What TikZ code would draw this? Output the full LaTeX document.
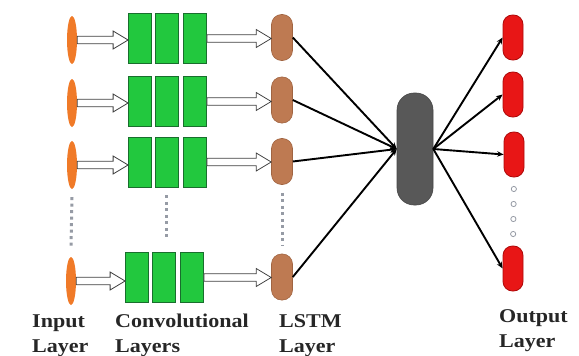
\documentclass[tikz,border=0pt]{standalone}
\usepackage{fontspec}
\setmainfont{Liberation Serif}
\usetikzlibrary{arrows.meta,calc,shapes.geometric}
\definecolor{inorange}{RGB}{240,122,40}
\definecolor{convgreen}{RGB}{34,200,62}
\definecolor{convedge}{RGB}{25,110,45}
\definecolor{lstmbrown}{RGB}{190,122,82}
\definecolor{lstmedge}{RGB}{160,100,65}
\definecolor{outred}{RGB}{232,22,22}
\definecolor{outedge}{RGB}{175,10,10}
\definecolor{hidgray}{RGB}{88,88,88}
\definecolor{dotgray}{RGB}{150,155,165}
\tikzset{
  inpnode/.style={ellipse,fill=inorange,draw=none,minimum width=10pt,minimum height=48pt,inner sep=0pt},
  convbox/.style={rectangle,fill=convgreen,draw=convedge,line width=0.8pt,minimum width=23pt,minimum height=50pt,inner sep=0pt},
  lstmnode/.style={rectangle,rounded corners=10pt,fill=lstmbrown,draw=lstmedge,line width=0.6pt,minimum width=21pt,minimum height=46pt,inner sep=0pt},
  outnode/.style={rectangle,rounded corners=9.5pt,fill=outred,draw=outedge,line width=0.8pt,minimum width=20pt,minimum height=45pt,inner sep=0pt},
  hidnode/.style={rectangle,rounded corners=17pt,fill=hidgray,draw=hidgray!80!black,line width=0.6pt,minimum width=36pt,minimum height=112pt,inner sep=0pt},
  harrow/.style={draw=black!75,fill=white,line width=0.8pt,line join=miter},
  conn/.style={draw=black,line width=1.9pt,-{Stealth[length=6.5pt,width=5.5pt]}},
  dotline/.style={draw=dotgray,line width=3pt,dash pattern=on 3pt off 3.5pt},
  lbl/.style={font=\fontsize{19.5}{25}\selectfont\bfseries,align=left,inner sep=0pt,xscale=1.13,text=black!85},
}
\newcommand\hollowarrow[2]{\path[harrow] let \p1=(#1.east), \p2=(#2.west) in
  (\x1,\y1+3.8pt) -- (\x2-15pt,\y1+3.8pt) -- (\x2-15pt,\y1+9pt) -- (\x2,\y1) --
  (\x2-15pt,\y1-9pt) -- (\x2-15pt,\y1-3.8pt) -- (\x1,\y1-3.8pt) -- cycle;}
\begin{document}
\begin{tikzpicture}[x=1pt,y=-1pt]
\useasboundingbox (0,0) rectangle (579,356);
% input nodes
\node[inpnode] (i1) at (72,40) {};
\node[inpnode] (i2) at (72,103) {};
\node[inpnode] (i3) at (72,165) {};
\node[inpnode] (i4) at (71,281) {};
% conv boxes
\foreach \r/\y/\dx in {1/38.5/0,2/101.5/0,3/162/0,4/277.5/-3}{
  \node[convbox] (c\r a) at (140+\dx,\y) {};
  \node[convbox] (c\r b) at (166.5+\dx,\y) {};
  \node[convbox] (c\r c) at (195+\dx,\y) {};
}
% lstm nodes
\node[lstmnode] (l1) at (282,37.5) {};
\node[lstmnode] (l2) at (282,100) {};
\node[lstmnode] (l3) at (282,161.5) {};
\node[lstmnode] (l4) at (282,277) {};
% hidden
\node[hidnode] (h) at (415,149) {};
% outputs
\node[outnode] (o1) at (513,37.5) {};
\node[outnode] (o2) at (513,94.5) {};
\node[outnode] (o3) at (514,154.5) {};
\node[outnode] (o4) at (513,268.5) {};
% hollow arrows
\foreach \r in {1,2,3,4}{
  \hollowarrow{i\r}{c\r a}
  \hollowarrow{c\r c}{l\r}
}
% connectors
\foreach \r in {1,2,3,4}{
  \draw[conn] (l\r.east) -- (h.west);
  \draw[conn] (h.east) -- (o\r.west);
}
% ellipsis dots
\draw[dotline] ([yshift=-8pt]i3.south) -- ([yshift=8pt]i4.north);
\draw[dotline] ([yshift=-8pt]c3b.south) -- ([yshift=12pt]c4b.north-|c3b.south);
\draw[dotline] ([yshift=-8pt]l3.south) -- ([yshift=8pt]l4.north);
\foreach \k in {0,1,2,3}{
  \draw[dotgray,line width=0.8pt] ($(o3.south)!{0.17+0.22*\k}!(o4.north)$) circle (2.6pt);
}
% labels
\node[lbl,anchor=base west] (tin) at (32,352) {Input\\Layer};
\node[lbl,anchor=base west] (tcv) at (115,352) {Convolutional\\Layers};
\node[lbl,anchor=base west] (tls) at (279,352) {LSTM\\Layer};
\node[lbl,anchor=base west] (tout) at (499,347) {Output\\Layer};
\end{tikzpicture}
\end{document}
